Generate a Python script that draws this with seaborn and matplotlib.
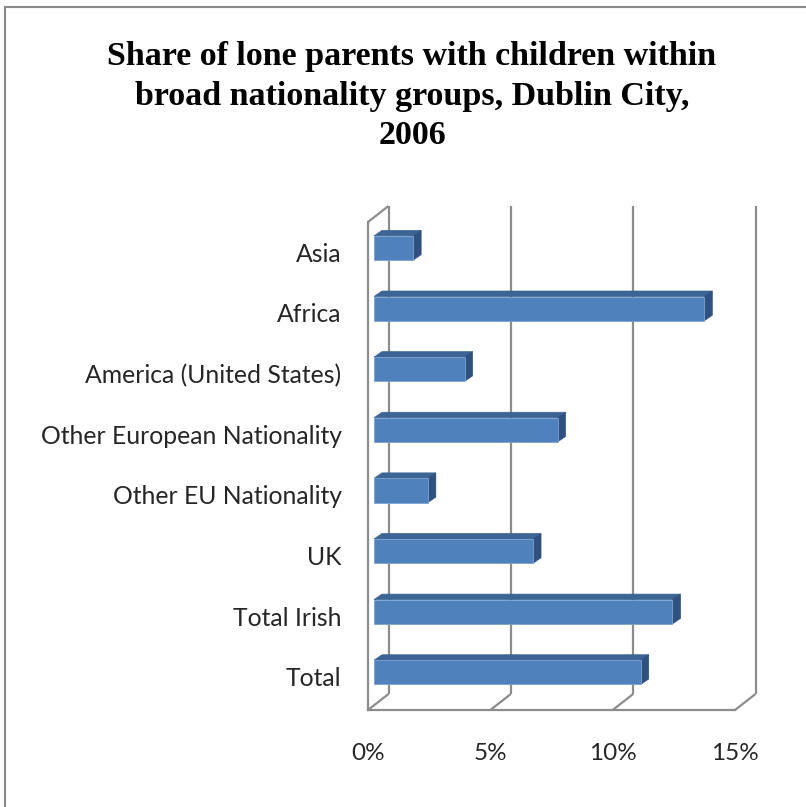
import matplotlib
matplotlib.use("Agg")
import matplotlib.pyplot as plt
import numpy as np
import pandas as pd
import seaborn as sns
from matplotlib.patches import Polygon, Rectangle
from matplotlib.lines import Line2D
from matplotlib.transforms import ScaledTranslation

# ---- data -------------------------------------------------------------
groups = [
    "Asia",
    "Africa",
    "America (United States)",
    "Other European Nationality",
    "Other EU Nationality",
    "UK",
    "Total Irish",
    "Total",
]
share = [1.6, 13.5, 3.7, 7.5, 2.2, 6.5, 12.2, 10.9]
x_ticks = [0, 5, 10, 15]
x_tick_labels = ["0%", "5%", "10%", "15%"]
title = ("Share of lone parents with children within\n"
         "broad nationality groups, Dublin City,\n2006")

# ---- figure -----------------------------------------------------------
W, H, DPI = 806, 807, 100
sns.set_theme(style="white")
fig = plt.figure(figsize=(W / DPI, H / DPI), dpi=DPI)
fig.patch.set_facecolor("white")

# front plane of the 3-D box
ax = fig.add_axes([368 / W, 97 / H, 367 / W, 488 / H])
df = pd.DataFrame({"group": groups, "share": share})
sns.barplot(data=df, x="share", y="group", orient="h", color="#4F81BD",
            saturation=1, width=0.4, edgecolor="#7fa2cf", linewidth=0.6,
            ax=ax, zorder=4)

Y_BOT, Y_TOP = 7.55, -0.5
ax.set_xlim(0, 15)
ax.set_ylim(Y_BOT, Y_TOP)
ax.set_xticks(x_ticks)
ax.set_xticklabels(x_tick_labels)
ax.set_xlabel("")
ax.set_ylabel("")

GRID = "#8c8c8c"
for s in ["top", "right"]:
    ax.spines[s].set_visible(False)
for s in ["left", "bottom"]:
    ax.spines[s].set_color(GRID)
    ax.spines[s].set_linewidth(1.6)

label_font = ["Lato", "DejaVu Sans"]
ax.tick_params(axis="y", length=0, pad=19, labelsize=17.8, labelcolor="#262626")
ax.tick_params(axis="x", length=0, pad=24, labelsize=17.5, labelcolor="#262626")
for lab in ax.get_xticklabels() + ax.get_yticklabels():
    lab.set_fontfamily(label_font)

# pixel offsets used for the oblique projection (x right, y up)
WALL = np.array([20.5, 16.0])      # depth of the box
BAR_SHIFT = np.array([6.0, 4.3])   # bars sit slightly behind the front plane
BAR_DEPTH = np.array([8.0, 5.5])   # thickness of each bar

to_disp = ax.transData.transform
to_data = ax.transData.inverted().transform


def seg(p, q, **kw):
    p, q = to_data(np.array([p, q]))
    ax.add_line(Line2D([p[0], q[0]], [p[1], q[1]], clip_on=False, **kw))


line_kw = dict(color=GRID, lw=1.6, zorder=1, solid_capstyle="butt")

# back wall gridlines and floor diagonals
for t in x_ticks:
    b = to_disp((t, Y_BOT))
    top = to_disp((t, Y_TOP))
    seg(b + WALL, top + WALL, **line_kw)
    seg(b, b + WALL, **line_kw)
# top edge of the side wall
p0 = to_disp((0, Y_TOP))
seg(p0, p0 + WALL, **line_kw)

# bars: shift front faces back, then add top and side faces
shift_tr = ScaledTranslation(BAR_SHIFT[0] / DPI, BAR_SHIFT[1] / DPI,
                             fig.dpi_scale_trans)
for p in list(ax.patches):
    x0, y0, w, h = p.get_x(), p.get_y(), p.get_width(), p.get_height()
    c = to_disp(np.array([[x0, y0], [x0 + w, y0 + h]]))
    L, R = c[:, 0].min() + BAR_SHIFT[0], c[:, 0].max() + BAR_SHIFT[0]
    B, T = c[:, 1].min() + BAR_SHIFT[1], c[:, 1].max() + BAR_SHIFT[1]
    p.set_transform(ax.transData + shift_tr)
    p.set_clip_on(False)
    dx, dy = BAR_DEPTH
    top_face = to_data(np.array([[L, T], [R, T], [R + dx, T + dy], [L + dx, T + dy]]))
    side_face = to_data(np.array([[R, B], [R, T], [R + dx, T + dy], [R + dx, B + dy]]))
    ax.add_patch(Polygon(top_face, closed=True, facecolor="#3c6494",
                         edgecolor="#3c6494", lw=0.5, zorder=3, clip_on=False))
    ax.add_patch(Polygon(side_face, closed=True, facecolor="#2f5180",
                         edgecolor="#2f5180", lw=0.5, zorder=3, clip_on=False))

ax.set_xlim(0, 15)
ax.set_ylim(Y_BOT, Y_TOP)

# title
fig.text(412 / W, 1 - 41 / H, title, ha="center", va="top",
         fontsize=24.5, fontweight="bold", family=["Liberation Serif", "DejaVu Serif"],
         linespacing=1.36, color="black")

# chart-area frame
fig.add_artist(Rectangle((5 / W, -0.05), 1.2, (H - 7) / H + 0.05,
                         transform=fig.transFigure, fill=False,
                         edgecolor="#8a8a8a", lw=1.5))

fig.savefig("out.png", dpi=DPI, facecolor="white")
